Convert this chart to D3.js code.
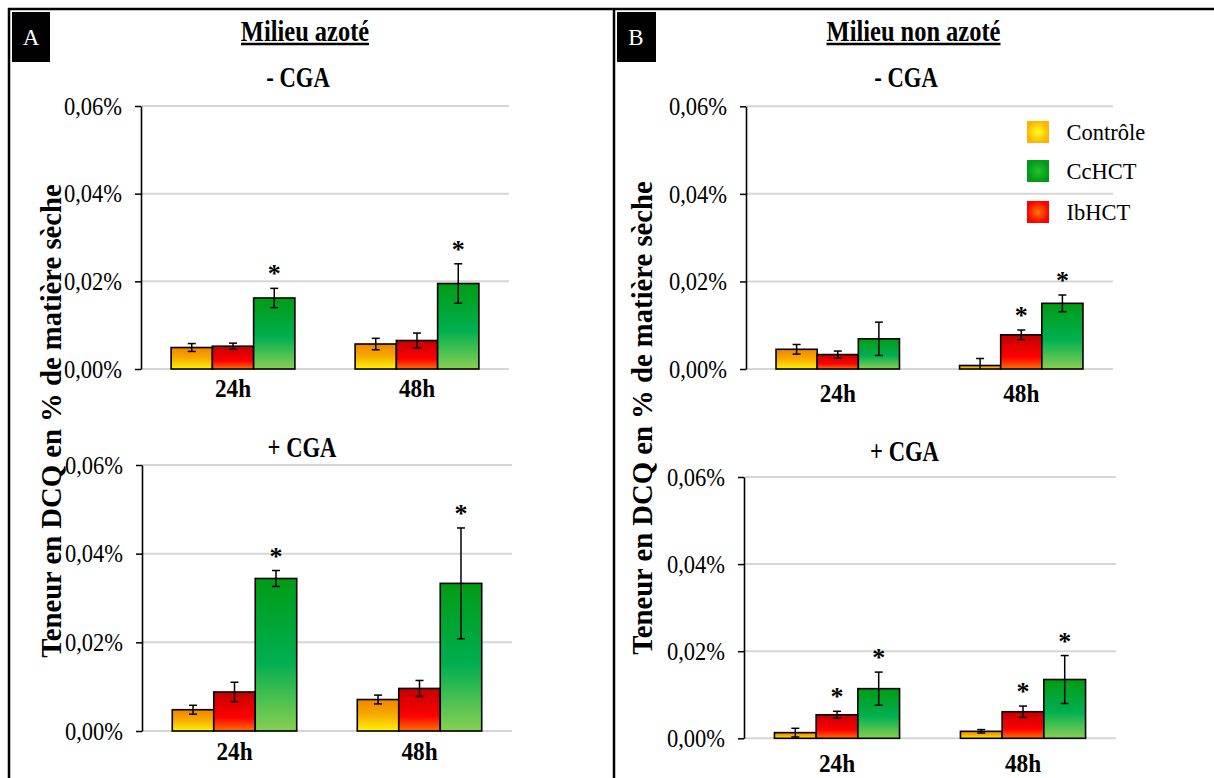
<!DOCTYPE html>
<html><head><meta charset="utf-8">
<script src="https://cdn.jsdelivr.net/npm/d3@7"></script>
<style>html,body{margin:0;padding:0;background:#fff;} svg{display:block;} svg text{font-family:"Liberation Serif","Times New Roman",serif !important;}</style>
</head><body>
<svg id="chart" width="1214" height="778"></svg>
<script>
// ---------- DATA ----------
const times = ["24h", "48h"];
const series = ["Contrôle", "IbHCT", "CcHCT"];
const legendOrder = ["Contrôle", "CcHCT", "IbHCT"];
const yTicks = [0, 0.02, 0.04, 0.06];          // values in % of dry matter
const panelTitles = ["Milieu azoté", "Milieu non azoté"];
const panelLetters = ["A", "B"];
const subTitles = ["- CGA", "+ CGA"];
const yTitle = "Teneur en DCQ en % de matière sèche";

// means / errors per time (rows) per series (Contrôle, IbHCT, CcHCT), in %
const aMinusMeans = [[0.0049, 0.0052, 0.0162], [0.0057, 0.0065, 0.0195]];
const aMinusErrs  = [[0.0009, 0.0007, 0.0022], [0.0013, 0.0017, 0.0045]];
const aMinusStars = [[0, 0, 1], [0, 0, 1]];

const aPlusMeans = [[0.0048, 0.0088, 0.0344], [0.0071, 0.0096, 0.0333]];
const aPlusErrs  = [[0.0010, 0.0022, 0.0018], [0.0010, 0.0018, 0.0125]];
const aPlusStars = [[0, 0, 1], [0, 0, 1]];

const bMinusMeans = [[0.0045, 0.0033, 0.0069], [0.0008, 0.0078, 0.0150]];
const bMinusErrs  = [[0.0011, 0.0008, 0.0038], [0.0016, 0.0011, 0.0019]];
const bMinusStars = [[0, 0, 0], [0, 1, 1]];

const bPlusMeans = [[0.0013, 0.0054, 0.0114], [0.0016, 0.0061, 0.0135]];
const bPlusErrs  = [[0.0010, 0.0008, 0.0038], [0.0004, 0.0013, 0.0055]];
const bPlusStars = [[0, 1, 1], [0, 1, 1]];

// ---------- LAYOUT ----------
const svg = d3.select("#chart");
const num = d3.formatLocale({decimal: ",", thousands: " ", grouping: [3], currency: ["", " €"]}).format(".2f");
const fmt = v => num(v) + "%";

const defs = svg.append("defs");
const linStops = {
  "Contrôle": [[0, "#F08400"], [0.5, "#F7AC00"], [1, "#FFF200"]],
  "IbHCT": [[0, "#C40000"], [0.65, "#FF0000"], [1, "#FF7000"]],
  "CcHCT": [[0, "#009C14"], [0.55, "#00AF50"], [1, "#88D052"]]
};
const radStops = {
  "Contrôle": [[0, "#FFFF20"], [1, "#FFB400"]],
  "IbHCT": [[0, "#FF7A00"], [1, "#FF0000"]],
  "CcHCT": [[0, "#22C22A"], [1, "#009A18"]]
};
series.forEach((s, i) => {
  const lg = defs.append("linearGradient").attr("id", "lin" + i)
    .attr("x1", 0).attr("y1", 0).attr("x2", 0).attr("y2", 1);
  linStops[s].forEach(st => lg.append("stop").attr("offset", st[0]).attr("stop-color", st[1]));
  const rg = defs.append("radialGradient").attr("id", "rad" + i);
  radStops[s].forEach(st => rg.append("stop").attr("offset", st[0]).attr("stop-color", st[1]));
});

function txt(g, str, x, y, opts) {
  return g.append("text")
    .attr("transform", `translate(${x},${y}) scale(${opts.sx || 1},1)`)
    .attr("text-anchor", opts.anchor || "middle")
    .attr("font-size", opts.size)
    .attr("font-weight", opts.bold ? "bold" : "normal")
    .attr("fill", opts.fill || "#000")
    .text(str);
}

function drawChart(cfg, means, errs, stars) {
  const g = svg.append("g");
  const x = d3.scaleBand().domain(times).range([cfg.x0, cfg.x1]);
  const xs = d3.scaleBand().domain(series).range([0, x.bandwidth()]).paddingOuter(0.73);
  const y = d3.scaleLinear().domain([0, 0.06]).range([cfg.yBot, cfg.yTop]);

  g.selectAll("line.grid").data(yTicks).enter().append("line")
    .attr("x1", cfg.x0).attr("x2", cfg.x1)
    .attr("y1", d => y(d)).attr("y2", d => y(d))
    .attr("stroke", "#D6D6D6").attr("stroke-width", 2);

  const flat = [];
  times.forEach((t, i) => series.forEach((s, j) => flat.push({t, s, j, m: means[i][j], e: errs[i][j], star: stars[i][j]})));
  g.selectAll("rect.bar").data(flat).enter().append("rect")
    .attr("x", d => x(d.t) + xs(d.s))
    .attr("width", xs.bandwidth())
    .attr("y", d => y(d.m))
    .attr("height", d => y(0) - y(d.m))
    .attr("fill", d => `url(#lin${d.j})`)
    .attr("stroke", "#000").attr("stroke-width", 1.6);

  const cap = 4;
  flat.forEach(d => {
    const cx = x(d.t) + xs(d.s) + xs.bandwidth() / 2;
    const yt = y(d.m + d.e);
    const ybRaw = y(d.m - d.e);
    const yb = Math.min(ybRaw, y(0));
    g.append("line").attr("x1", cx).attr("x2", cx).attr("y1", yt).attr("y2", yb)
      .attr("stroke", "#000").attr("stroke-width", 1.5);
    g.append("line").attr("x1", cx - cap).attr("x2", cx + cap).attr("y1", yt).attr("y2", yt)
      .attr("stroke", "#000").attr("stroke-width", 1.5);
    if (ybRaw <= y(0)) {
      g.append("line").attr("x1", cx - cap).attr("x2", cx + cap).attr("y1", yb).attr("y2", yb)
        .attr("stroke", "#000").attr("stroke-width", 1.5);
    }
    if (d.star) txt(g, "*", cx, yt - 6, {size: 26, bold: true});
  });

  const ax = g.append("g").attr("transform", `translate(${cfg.x0},0)`)
    .call(d3.axisLeft(y).tickValues(yTicks).tickSize(6).tickSizeOuter(0).tickFormat(fmt));
  ax.attr("font-family", null);
  ax.select(".domain").attr("stroke", "#000").attr("stroke-width", 1.6);
  ax.selectAll(".tick line").attr("stroke", "#000").attr("stroke-width", 1.5);
  ax.selectAll(".tick text")
    .attr("font-size", 25).attr("fill", "#000")
    .attr("x", -19 / 0.9).attr("dy", "0.33em")
    .attr("transform", "scale(0.9,1)");

  times.forEach(t => txt(g, t, x(t) + x.bandwidth() / 2, cfg.labelY, {size: 24.5, bold: true, sx: 0.95}));
  txt(g, cfg.sub, cfg.subX, cfg.subY, {size: 29, bold: true, sx: 0.78});
}

// frame
svg.append("line").attr("x1", 8).attr("x2", 1214).attr("y1", 9).attr("y2", 9).attr("stroke", "#000").attr("stroke-width", 2.5);
svg.append("line").attr("x1", 9).attr("x2", 9).attr("y1", 8).attr("y2", 778).attr("stroke", "#000").attr("stroke-width", 2.5);
svg.append("line").attr("x1", 614).attr("x2", 614).attr("y1", 8).attr("y2", 778).attr("stroke", "#000").attr("stroke-width", 2.5);

const panelLayout = [
  {boxX: 12, boxW: 38, letterX: 31, titleX: 305, titleW: 128, yTitleX: 61, yTitleY: 421},
  {boxX: 617, boxW: 39, letterX: 636, titleX: 913.5, titleW: 174, yTitleX: 652, yTitleY: 418}
];
panelLayout.forEach((p, i) => {
  svg.append("rect").attr("x", p.boxX).attr("y", 12).attr("width", p.boxW).attr("height", 50).attr("fill", "#000");
  txt(svg, panelLetters[i], p.letterX, 44.5, {size: 23, fill: "#fff"});
  txt(svg, panelTitles[i], p.titleX, 40.5, {size: 30, bold: true, sx: 0.815});
  svg.append("line").attr("x1", p.titleX - p.titleW / 2).attr("x2", p.titleX + p.titleW / 2)
    .attr("y1", 44).attr("y2", 44).attr("stroke", "#000").attr("stroke-width", 2.5);
  svg.append("text")
    .attr("transform", `translate(${p.yTitleX},${p.yTitleY}) rotate(-90)`)
    .attr("text-anchor", "middle").attr("font-size", 28.7).attr("font-weight", "bold")
    .text(yTitle);
});

drawChart({x0: 141, x1: 509, yTop: 106, yBot: 369, labelY: 397, sub: subTitles[0], subX: 298, subY: 87}, aMinusMeans, aMinusErrs, aMinusStars);
drawChart({x0: 142, x1: 512, yTop: 465, yBot: 731, labelY: 760, sub: subTitles[1], subX: 302, subY: 456.5}, aPlusMeans, aPlusErrs, aPlusStars);
drawChart({x0: 746, x1: 1113, yTop: 106.3, yBot: 369, labelY: 402, sub: subTitles[0], subX: 906, subY: 87}, bMinusMeans, bMinusErrs, bMinusStars);
drawChart({x0: 744, x1: 1116, yTop: 477, yBot: 738.3, labelY: 771.5, sub: subTitles[1], subX: 904.5, subY: 461}, bPlusMeans, bPlusErrs, bPlusStars);

const legY = [121, 160, 201];
legendOrder.forEach((s, k) => {
  const j = series.indexOf(s);
  svg.append("rect").attr("x", 1027).attr("y", legY[k]).attr("width", 22).attr("height", 22)
    .attr("fill", `url(#rad${j})`);
  txt(svg, s, 1066.5, legY[k] + 19, {size: 22.5, anchor: "start"});
});
</script>
</body></html>
